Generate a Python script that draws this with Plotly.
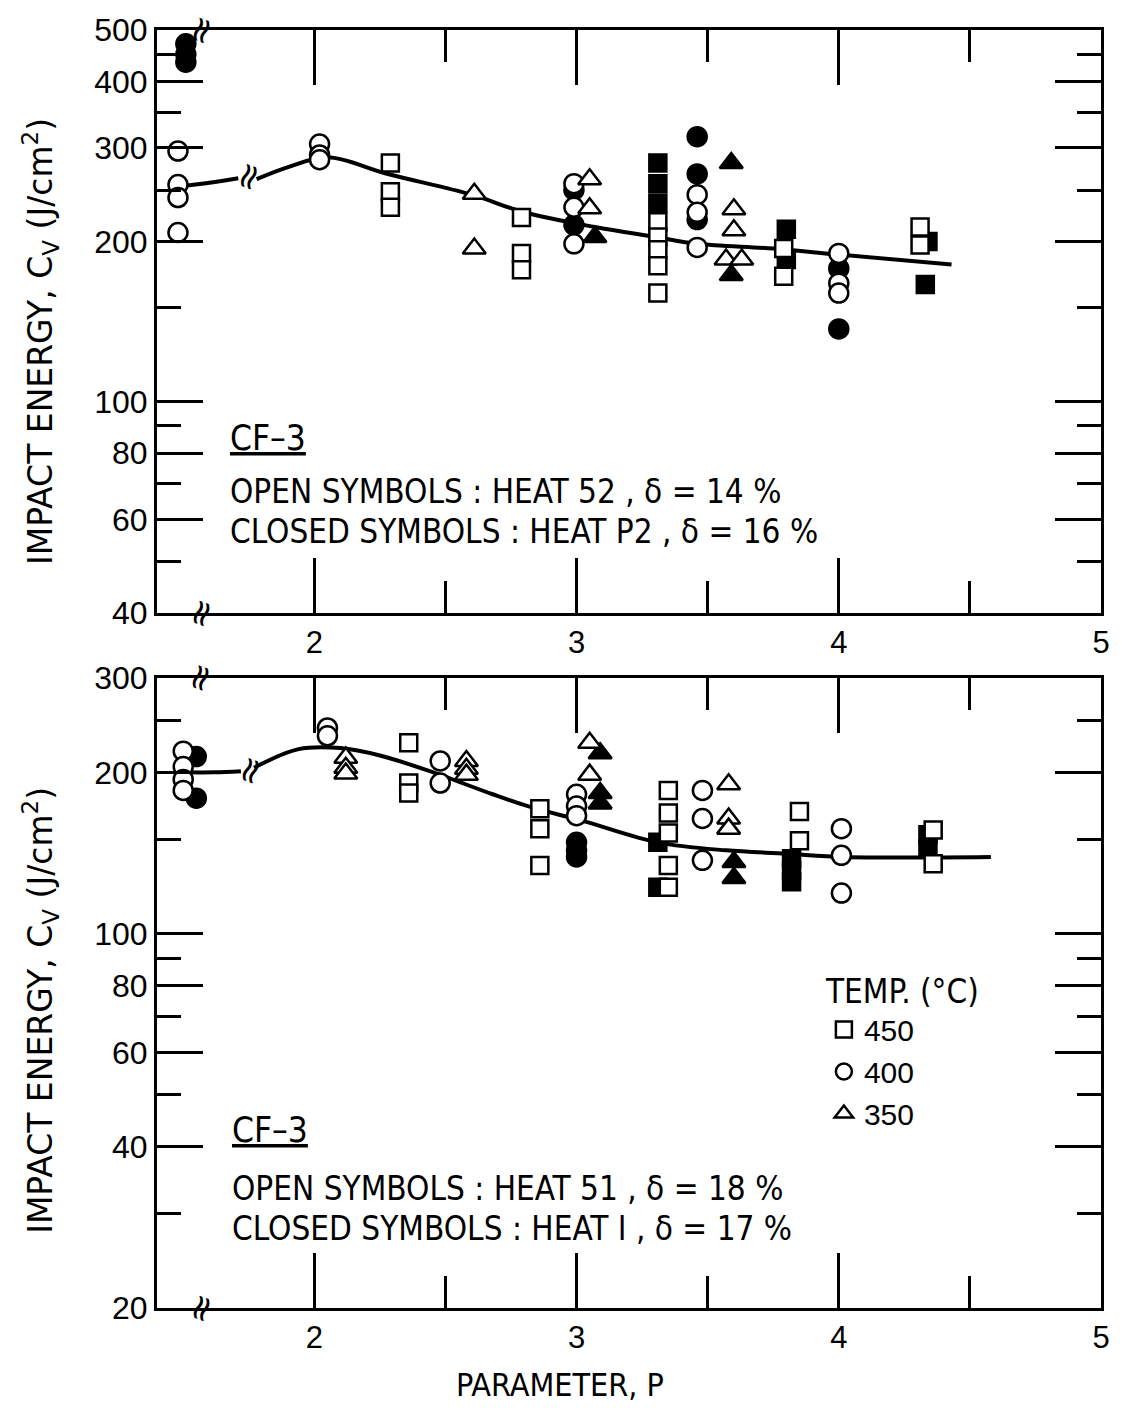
import plotly.graph_objects as go
from plotly.subplots import make_subplots

# ---------------- data ----------------
# Top panel: CF-3, heats 52 (open) and P2 (closed)
top_sq_open_x = [2.29, 2.29, 2.29, 2.79, 2.79, 2.79, 3.31, 3.31, 3.31, 3.31, 3.31, 3.79, 3.79, 4.31, 4.31]
top_sq_open_y = [281, 248, 232, 222, 190, 177, 218, 204, 193, 180, 160, 194, 172, 213, 197]
top_sq_fill_x = [3.31, 3.31, 3.31, 3.80, 3.80, 4.34, 4.33]
top_sq_fill_y = [281, 257, 236, 211, 185, 200, 166]
top_ci_open_x = [1.48, 1.48, 1.48, 1.48, 2.02, 2.02, 2.02, 2.99, 2.99, 2.99, 3.46, 3.46, 3.46, 4.00, 4.00, 4.00]
top_ci_open_y = [296, 256, 242, 208, 305, 291, 285, 257, 232, 198, 245, 227, 195, 190, 167, 160]
top_ci_fill_x = [1.51, 1.51, 1.51, 2.99, 2.99, 3.46, 3.46, 3.46, 4.00, 4.00]
top_ci_fill_y = [471, 450, 435, 250, 215, 315, 268, 220, 178, 137]
top_tr_open_x = [2.61, 2.61, 3.05, 3.05, 3.60, 3.60, 3.57, 3.63]
top_tr_open_y = [246, 194, 262, 231, 230, 210, 185, 185]
top_tr_fill_x = [3.07, 3.59, 3.59]
top_tr_fill_y = [204, 281, 173]
top_curve_x = [1.49, 1.60, 1.71, None, 1.78, 1.90, 2.05, 2.28, 2.60, 2.80, 3.07, 3.30, 3.46, 3.75, 4.00, 4.43]
top_curve_y = [254, 258, 263, None, 262, 276, 288, 268, 245, 227, 213, 204, 198, 194, 189, 181]

# Bottom panel: CF-3, heats 51 (open) and I (closed)
bot_sq_open_x = [2.36, 2.36, 2.36, 2.86, 2.86, 2.86, 3.35, 3.35, 3.35, 3.35, 3.35, 3.85, 3.85, 4.36, 4.36]
bot_sq_open_y = [227, 191, 183, 171, 157, 134, 185, 168, 154, 134, 122, 169, 149, 156, 135]
bot_sq_fill_x = [3.31, 3.31, 3.82, 3.82, 3.82, 4.34, 4.34]
bot_sq_fill_y = [148, 122, 138, 131, 125, 153, 144]
bot_ci_open_x = [1.50, 1.50, 1.50, 1.50, 2.05, 2.05, 2.48, 2.48, 3.00, 3.00, 3.00, 3.48, 3.48, 3.48, 4.01, 4.01, 4.01]
bot_ci_open_y = [219, 205, 194, 185, 242, 234, 210, 191, 182, 173, 166, 185, 164, 137, 157, 140, 119]
bot_ci_fill_x = [1.55, 1.55, 3.00, 3.00, 3.00]
bot_ci_fill_y = [214, 179, 148, 143, 139]
bot_tr_open_x = [2.12, 2.12, 2.12, 2.58, 2.58, 2.58, 3.05, 3.05, 3.58, 3.58, 3.58]
bot_tr_open_y = [213, 204, 199, 210, 203, 198, 227, 198, 190, 164, 157]
bot_tr_fill_x = [3.09, 3.09, 3.09, 3.60, 3.60]
bot_tr_fill_y = [217, 183, 175, 136, 127]
bot_curve_x = [1.50, 1.62, 1.72, None, 1.77, 1.94, 2.10, 2.25, 2.44, 2.68, 2.83, 3.03, 3.31, 3.57, 3.80, 4.02, 4.58]
bot_curve_y = [200, 200, 201, None, 204, 221, 222, 215, 201, 182, 172, 162, 148, 143, 141, 139, 139]

x_ticks = [2, 3, 4, 5]
x_minor = [2.5, 3.5, 4.5]
top_yticks = [40, 60, 80, 100, 200, 300, 400, 500]
top_yminor = [50, 70, 90, 150, 250, 350, 450]
bot_yticks = [20, 40, 60, 80, 100, 200, 300]
bot_yminor = [30, 50, 70, 90, 150, 250]
legend_names = ["450", "400", "350"]

# ---------------- figure ----------------
W, H = 1122, 1408
ML, MR, MT, MB = 157, 18, 28, 100
PW, PH = W - ML - MR, H - MT - MB

def px(xp):
    return (xp - ML) / PW

def py(yp):
    return (H - MB - yp) / PH

TXT = "Liberation Sans Narrow, DejaVu Sans Condensed, Liberation Sans, sans-serif"
NUM = "Liberation Sans, DejaVu Sans, sans-serif"

fig = make_subplots(rows=2, cols=1)

def mk(x, y, symbol, filled, size, row, name=None, show=False):
    fig.add_trace(go.Scatter(
        x=x, y=y, mode="markers", name=name, showlegend=show,
        marker=dict(symbol=symbol, size=size,
                    color="black" if filled else "white",
                    line=dict(color="black", width=2.5)),
    ), row=row, col=1)

# curves first (below markers)
fig.add_trace(go.Scatter(x=top_curve_x, y=top_curve_y, mode="lines", showlegend=False,
                         line=dict(color="black", width=4, shape="spline")), row=1, col=1)
fig.add_trace(go.Scatter(x=bot_curve_x, y=bot_curve_y, mode="lines", showlegend=False,
                         line=dict(color="black", width=4, shape="spline")), row=2, col=1)

SQ, CI, TR = 17, 19, 20
mk(top_sq_fill_x, top_sq_fill_y, "square", True, SQ, 1)
mk(top_sq_open_x, top_sq_open_y, "square", False, SQ, 1)
mk(top_ci_fill_x, top_ci_fill_y, "circle", True, CI, 1)
mk(top_ci_open_x, top_ci_open_y, "circle", False, CI, 1)
mk(top_tr_fill_x, top_tr_fill_y, "triangle-up", True, TR, 1)
mk(top_tr_open_x, top_tr_open_y, "triangle-up", False, TR, 1)

mk(bot_sq_fill_x, bot_sq_fill_y, "square", True, SQ, 2)
mk(bot_sq_open_x, bot_sq_open_y, "square", False, SQ, 2, legend_names[0], True)
mk(bot_ci_fill_x, bot_ci_fill_y, "circle", True, CI, 2)
mk(bot_ci_open_x, bot_ci_open_y, "circle", False, CI, 2, legend_names[1], True)
mk(bot_tr_fill_x, bot_tr_fill_y, "triangle-up", True, TR, 2)
mk(bot_tr_open_x, bot_tr_open_y, "triangle-up", False, TR, 2, legend_names[2], True)

xaxis_common = dict(
    range=[1.40, 5.0], tickmode="array", tickvals=x_ticks, ticktext=[str(v) for v in x_ticks],
    ticks="inside", ticklen=55, tickwidth=2.5, tickcolor="black",
    minor=dict(tickmode="array", tickvals=x_minor, ticks="inside", ticklen=32,
               tickwidth=2.5, tickcolor="black"),
    showline=True, linecolor="black", linewidth=3, mirror="ticks",
    showgrid=False, zeroline=False,
    tickfont=dict(family=NUM, size=31, color="black"),
)
fig.update_xaxes(**xaxis_common)
fig.update_xaxes(domain=[0, 1])

def yaxis_cfg(rng, ticks, minor, dom):
    import math
    return dict(
        type="log", range=[math.log10(rng[0]), math.log10(rng[1])], domain=dom,
        tickmode="array", tickvals=ticks, ticktext=[str(v) for v in ticks],
        ticks="inside", ticklen=46, tickwidth=2.5, tickcolor="black",
        minor=dict(tickmode="array", tickvals=minor, ticks="inside", ticklen=24,
                   tickwidth=2.5, tickcolor="black"),
        showline=True, linecolor="black", linewidth=3, mirror="ticks",
        showgrid=False, zeroline=False,
        tickfont=dict(family=NUM, size=32, color="black"),
    )

fig.update_layout(
    yaxis=yaxis_cfg((40, 500), top_yticks, top_yminor, [py(612), 1.0]),
    yaxis2=yaxis_cfg((20, 300), bot_yticks, bot_yminor, [0.0, py(677)]),
)

ann = []
def text(xp, yp, s, size=33, fam=TXT, xanchor="left", angle=0):
    ann.append(dict(x=px(xp), y=py(yp), xref="paper", yref="paper", text=s, showarrow=False,
                    xanchor=xanchor, yanchor="middle", textangle=angle,
                    font=dict(family=fam, size=size, color="black")))

# panel texts
text(228, 437, "<u>CF–3</u>", size=35)
text(228, 490, "OPEN SYMBOLS : HEAT 52 , δ = 14 %")
text(228, 530, "CLOSED SYMBOLS : HEAT P2 , δ = 16 %")
text(230, 1130, "<u>CF–3</u>", size=35)
text(230, 1188, "OPEN SYMBOLS : HEAT 51 , δ = 18 %")
text(230, 1228, "CLOSED SYMBOLS : HEAT I , δ = 17 %")

# axis titles
ytitle = "IMPACT ENERGY, C<sub>V</sub> (J/cm<sup>2</sup>)"
text(40, 340, ytitle, size=33, fam="DejaVu Sans, sans-serif", xanchor="center", angle=-90)
text(40, 1010, ytitle, size=33, fam="DejaVu Sans, sans-serif", xanchor="center", angle=-90)
text(561, 1385, "PARAMETER, P", size=32, xanchor="center")

# axis-break marks
for (bx, by) in [(200, 28), (200, 612), (248, 175), (200, 677), (200, 1308), (250, 770)]:
    text(bx, by, "≈", size=36, fam="DejaVu Sans, sans-serif", xanchor="center", angle=-70)

fig.update_layout(
    width=W, height=H,
    margin=dict(l=ML, r=MR, t=MT, b=MB),
    paper_bgcolor="white", plot_bgcolor="white",
    annotations=ann,
    legend=dict(
        x=px(826), y=py(960), xanchor="left", yanchor="top",
        title=dict(text="TEMP. (°C)", font=dict(family=TXT, size=33, color="black")),
        font=dict(family=NUM, size=30, color="black"),
        bgcolor="rgba(0,0,0,0)", itemsizing="trace", tracegroupgap=0,
    ),
)

fig.write_html("out.html")
